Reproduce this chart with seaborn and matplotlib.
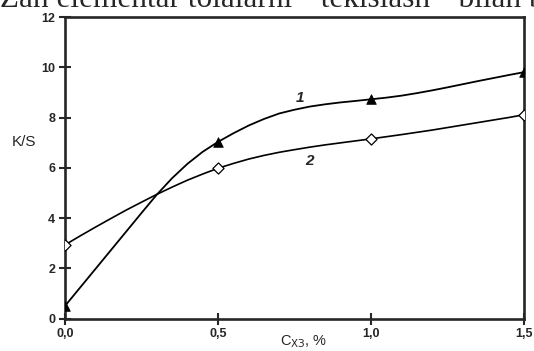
import matplotlib
matplotlib.use("Agg")
import matplotlib.pyplot as plt
import seaborn as sns
import pandas as pd

# measured points (markers)
x_pts = [0.0, 0.5, 1.0, 1.5]
ks_1 = [0.5, 7.03, 8.72, 9.8]
ks_2 = [2.93, 5.98, 7.13, 8.1]

# smooth curves
x_curve = [0.0, 0.05, 0.1, 0.15, 0.2, 0.25, 0.3, 0.35, 0.4, 0.45, 0.5,
           0.55, 0.6, 0.65, 0.7, 0.75, 0.8, 0.85, 0.9, 0.95, 1.0,
           1.05, 1.1, 1.15, 1.2, 1.25, 1.3, 1.35, 1.4, 1.45, 1.5]
curve_1 = [0.5, 1.24, 1.98, 2.72, 3.46, 4.2, 4.93, 5.585, 6.155, 6.635, 7.03,
           7.37, 7.68, 7.94, 8.16, 8.31, 8.435, 8.525, 8.6, 8.66, 8.725,
           8.79, 8.87, 8.97, 9.08, 9.2, 9.325, 9.45, 9.57, 9.69, 9.805]
curve_2 = [2.93, 3.29, 3.64, 3.98, 4.315, 4.63, 4.94, 5.23, 5.505, 5.75, 5.98,
           6.17, 6.345, 6.49, 6.615, 6.72, 6.82, 6.91, 6.99, 7.07, 7.15,
           7.235, 7.32, 7.41, 7.5, 7.6, 7.7, 7.8, 7.9, 8.0, 8.11]

x_ticks = [0.0, 0.5, 1.0, 1.5]
x_ticklabels = ["0,0", "0,5", "1,0", "1,5"]
y_ticks = [0, 2, 4, 6, 8, 10, 12]

sns.set_style("ticks")
plt.rcParams["font.family"] = ["Liberation Sans", "DejaVu Sans"]

fig = plt.figure(figsize=(5.34, 3.51), dpi=100)
ax = fig.add_axes([65 / 534, 1 - 318.5 / 351, 459 / 534, 301.5 / 351])

curves = pd.DataFrame({"x": x_curve, "k1": curve_1, "k2": curve_2})
pts = pd.DataFrame({"x": x_pts, "k1": ks_1, "k2": ks_2})

sns.lineplot(data=curves, x="x", y="k1", ax=ax, color="black", lw=1.3)
sns.lineplot(data=curves, x="x", y="k2", ax=ax, color="black", lw=1.2)
sns.scatterplot(data=pts, x="x", y="k1", ax=ax, marker="^", s=48,
                color="black", edgecolor="black", zorder=3)
sns.scatterplot(data=pts, x="x", y="k2", ax=ax, marker="D", s=32,
                facecolor="white", edgecolor="black", linewidth=0.9, zorder=3)

ax.set_xlim(0, 1.5)
ax.set_ylim(0, 12)
ax.set_xticks(x_ticks)
ax.set_xticklabels(x_ticklabels)
ax.set_yticks(y_ticks)
for s in ax.spines.values():
    s.set_linewidth(1.9)
    s.set_visible(True)
ax.tick_params(direction="inout", length=8, width=1.5, labelsize=9, pad=3)
for lab in ax.get_xticklabels() + ax.get_yticklabels():
    lab.set_fontweight("bold")

ax.set_xlabel(r"C$_{\mathrm{ХЗ}}$, %", fontsize=10.5)
ax.xaxis.set_label_coords(0.52, -0.05)
ax.set_ylabel("K/S", fontsize=11, rotation=0, va="center")
ax.yaxis.set_label_coords(-0.09, 0.586)

ax.text(0.768, 8.79, "1", fontsize=11, fontweight="bold", style="italic",
        ha="center", va="center")
ax.text(0.80, 6.25, "2", fontsize=11, fontweight="bold", style="italic",
        ha="center", va="center")

# scanned page: the line of text above the chart is cut by the top edge
fig.text(0.0, 1 - 7 / 351, 'Zan elementar tolalarni  "tekislash"  bilan b',
         family="Liberation Serif", fontsize=22.5, va="baseline", ha="left")

fig.savefig("out.png", dpi=100)
